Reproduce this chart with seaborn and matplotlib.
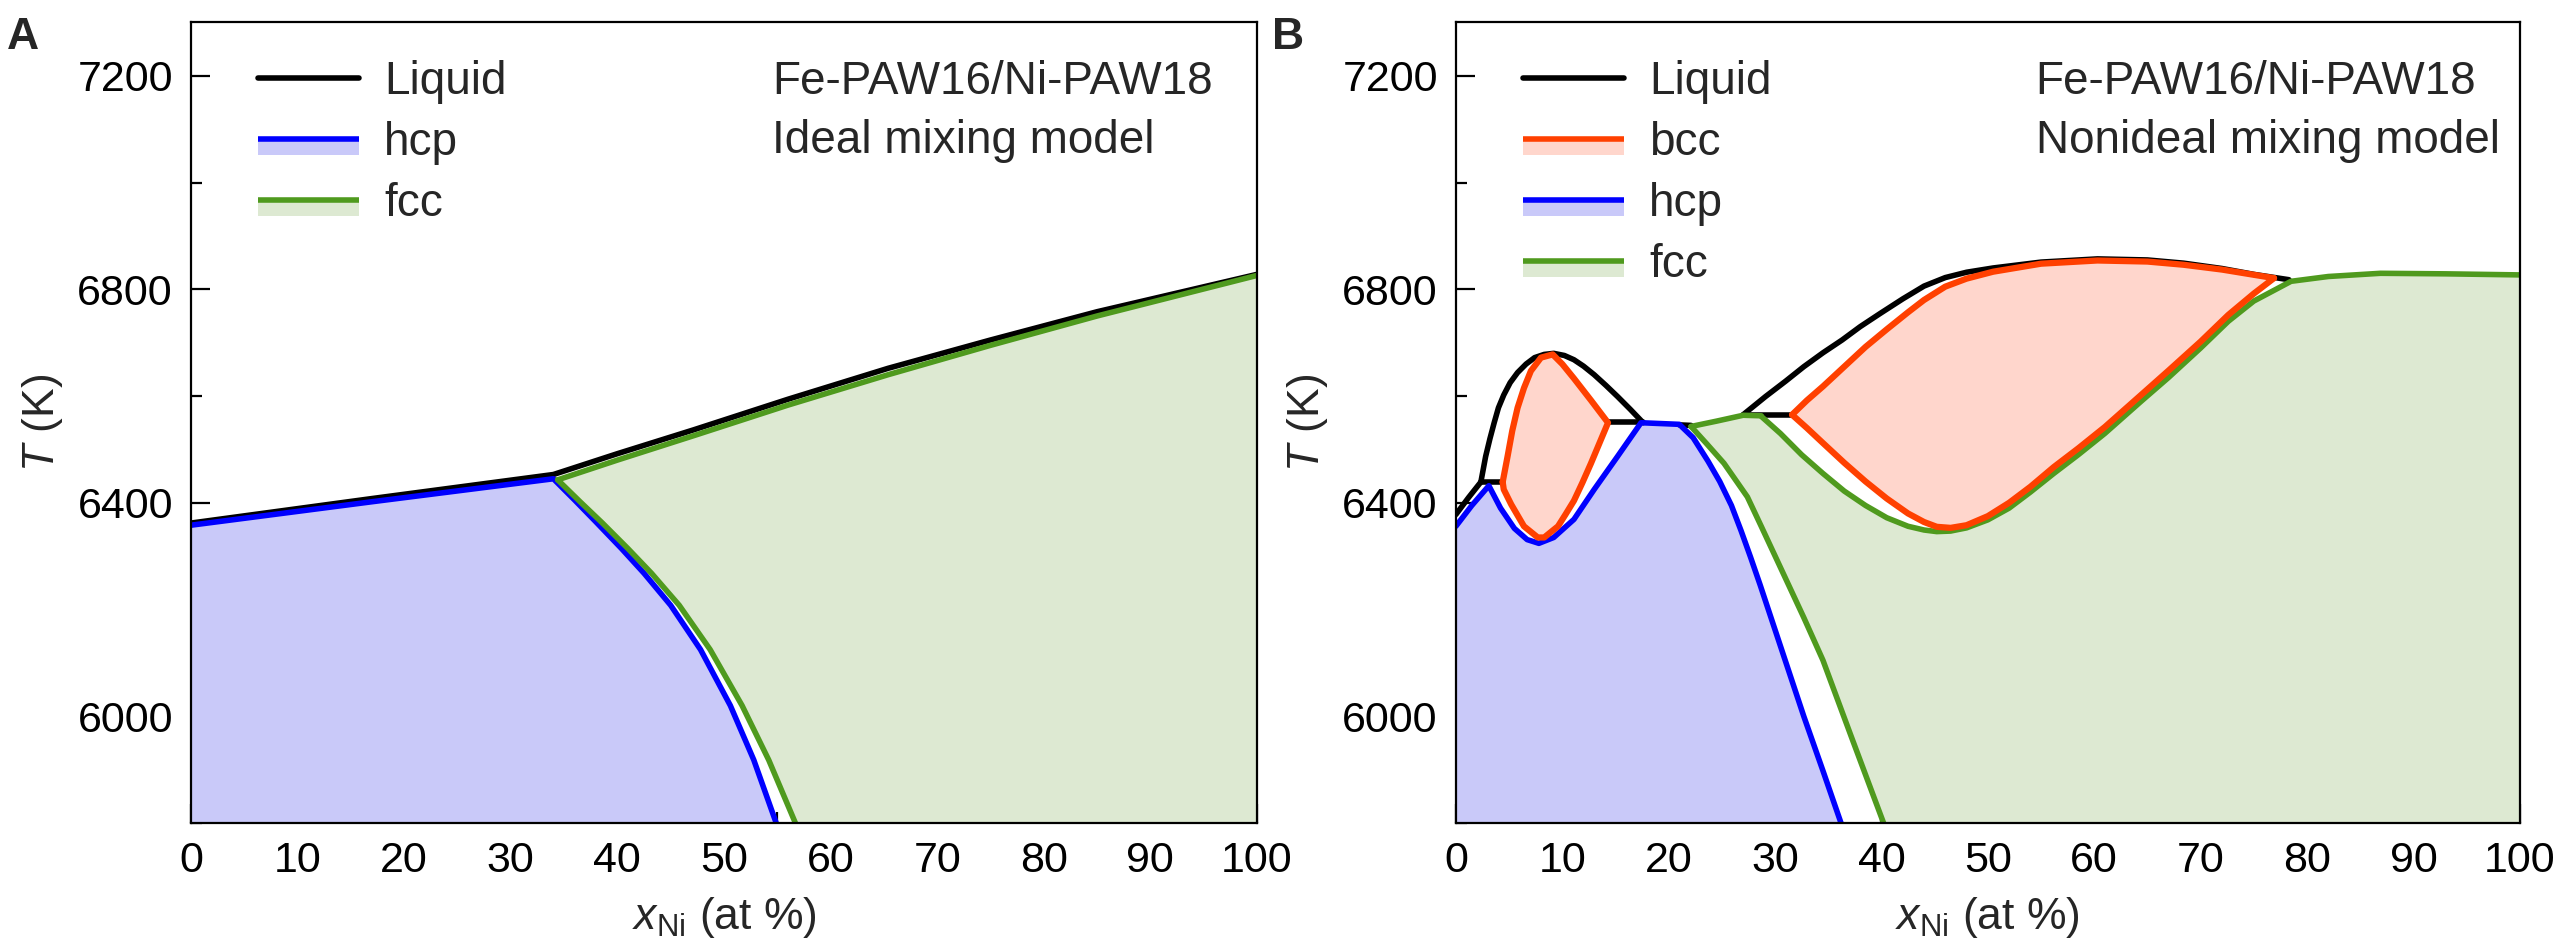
import matplotlib
matplotlib.use('Agg')
import matplotlib.pyplot as plt
import seaborn as sns
from matplotlib.lines import Line2D
from matplotlib.patches import Patch, Rectangle
from matplotlib.legend_handler import HandlerBase
from matplotlib.ticker import MultipleLocator

T_MIN, T_MAX = 5800, 7300

# ---- panel A: ideal mixing model ----
a_liq_x = [0, 17, 34.0, 40.0, 47.2, 56.0, 65.4, 75.0, 85.0, 100]
a_liq_T = [6362, 6408, 6453, 6492, 6537, 6594, 6652, 6705, 6758, 6828]

a_hcp_x = [0, 17, 34.0, 36.0, 38.0, 40.4, 42.5, 45.0, 47.8, 50.6, 52.8, 54.9]
a_hcp_T = [6358, 6402, 6445, 6405, 6364, 6314, 6268, 6208, 6125, 6020, 5918, 5800]

a_fcc_top_x = [34.4, 40.0, 47.2, 56.0, 65.4, 75.0, 85.0, 100]
a_fcc_top_T = [6443, 6480, 6526, 6583, 6640, 6695, 6750, 6826]
a_fcc_low_x = [34.4, 36.5, 38.6, 41.0, 43.2, 45.8, 48.7, 51.7, 54.2, 56.7]
a_fcc_low_T = [6443, 6402, 6362, 6314, 6268, 6208, 6125, 6020, 5918, 5800]

# ---- panel B: nonideal mixing model ----
b_liq_segments = [
    ([0, 1.2, 2.35], [6378, 6410, 6439]),
    ([2.35, 4.4], [6439, 6439]),
    ([2.35, 2.8, 3.2, 3.6, 4.0, 4.5, 5.1, 5.8, 6.6, 7.4, 8.3, 9.2, 10.2, 11.1, 12.0, 13.0, 14.1, 15.2, 16.4, 17.6],
     [6439, 6487, 6520, 6550, 6578, 6602, 6625, 6644, 6660, 6672, 6678, 6680, 6676, 6668, 6656, 6640, 6620, 6599, 6575, 6550]),
    ([14.3, 17.6], [6551, 6551]),
    ([21.0, 22.1], [6546, 6545]),
    ([27.0, 31.6], [6565, 6565]),
    ([27.0, 29.1, 31.0, 32.7, 34.5, 36.3, 38.0, 39.9, 42.0, 44.0, 46.0, 48.0, 50.5, 55.0, 60.3, 65.0, 68.4, 72.0, 75.0, 78.3],
     [6565, 6599, 6628, 6655, 6681, 6705, 6730, 6755, 6782, 6806, 6822, 6832, 6840, 6851, 6857, 6855, 6849, 6839, 6828, 6818]),
]

b_hcp_x = [0, 1.5, 3.1, 4.2, 5.5, 6.7, 7.8, 9.2, 11.1, 13.0, 15.2, 17.4, 21.0, 22.3, 23.7, 24.8, 25.9, 26.8,
           27.7, 28.6, 30.5, 32.7, 34.5, 36.2]
b_hcp_T = [6356, 6395, 6432, 6390, 6352, 6331, 6324, 6335, 6369, 6425, 6487, 6550, 6547, 6522, 6478, 6440, 6395, 6348,
           6298, 6246, 6132, 6000, 5898, 5800]

b_bcc1_x = [4.4, 4.86, 5.3, 5.8, 6.4, 7.05, 8.0, 9.1, 10.0, 11.1, 12.7, 14.3, 13.5, 12.7, 11.9, 11.1, 10.3, 9.6,
            8.3, 7.7, 6.4, 5.2, 4.5, 4.4]
b_bcc1_T = [6439, 6487, 6535, 6578, 6615, 6647, 6672, 6678, 6660, 6633, 6592, 6550, 6512, 6474, 6438, 6404, 6378, 6356,
            6335, 6335, 6356, 6397, 6425, 6439]

b_bcc2_up_x = [31.6, 33.0, 34.5, 36.5, 38.5, 40.5, 42.5, 44.0, 46.0, 48.0, 50.5, 55.0, 60.3, 65.0, 68.4, 72.0, 76.9]
b_bcc2_up_T = [6565, 6592, 6618, 6655, 6692, 6725, 6757, 6780, 6805, 6820, 6833, 6848, 6854, 6852, 6846, 6837, 6821]
b_bcc2_low_x = [31.6, 33.0, 34.5, 36.5, 38.5, 40.5, 42.5, 44.0, 45.2, 46.5, 48.0, 50.0, 52.0, 54.0, 56.2,
                58.5, 61.0, 64.4, 67.0, 70.0, 72.6, 75.0, 76.9]
b_bcc2_low_T = [6565, 6540, 6512, 6475, 6440, 6408, 6380, 6364, 6355, 6353, 6358, 6375, 6400, 6430, 6467,
                6502, 6542, 6602, 6648, 6702, 6752, 6792, 6821]

b_fcc_top_x = [22.1, 24.5, 27.0, 28.7]
b_fcc_top_T = [6543, 6553, 6564, 6563]
b_fcc_liq_x = [28.7, 30.5, 32.5, 34.5, 36.5, 38.5, 40.5, 42.5, 44.0, 45.2, 46.5, 48.0, 50.0, 52.0, 54.0, 56.2,
               58.5, 61.0, 64.4, 67.0, 70.0, 72.6, 75.0, 78.5, 82.0, 86.9, 93.0, 100]
b_fcc_liq_T = [6562, 6530, 6490, 6455, 6422, 6395, 6372, 6356, 6349, 6346, 6347, 6353, 6368, 6390, 6420, 6455,
               6490, 6530, 6590, 6635, 6690, 6740, 6778, 6815, 6824, 6830, 6829, 6827]
b_fcc_sol_x = [22.1, 23.6, 25.2, 27.4, 28.7, 30.9, 32.7, 34.5, 37.2, 40.2]
b_fcc_sol_T = [6543, 6510, 6474, 6411, 6356, 6262, 6185, 6105, 5960, 5800]

C_LIQ = 'black'
C_HCP, F_HCP = '#0000ff', '#c9c9f9'
C_FCC, F_FCC = '#4f9a1e', '#dde9d2'
C_BCC, F_BCC = '#ff4000', '#ffd6cc'
LW = 4.0
LW_BCC = 4.5

sns.set_theme(style='ticks')
plt.rcParams['font.family'] = ['Liberation Sans', 'DejaVu Sans']
plt.rcParams['mathtext.fontset'] = 'custom'
plt.rcParams['mathtext.rm'] = 'Liberation Sans'
plt.rcParams['mathtext.it'] = 'Liberation Sans:italic'
FS_TICK = 31
FS_TEXT = 33
FS_LABEL = 32


class BandHandler(HandlerBase):
    # legend key: a line with the light phase fill underneath
    def create_artists(self, legend, orig_handle, xdescent, ydescent, width, height, fontsize, trans):
        ymid = (height - ydescent) / 2.
        rect = Rectangle((-xdescent, -ydescent), width, ymid + ydescent,
                         facecolor=orig_handle.get_facecolor(), edgecolor='none', transform=trans)
        ln = Line2D([-xdescent, -xdescent + width], [ymid, ymid],
                    color=orig_handle.get_edgecolor(), lw=LW, solid_capstyle='butt', transform=trans)
        return [rect, ln]


def line(ax, x, y, color, lw=LW):
    sns.lineplot(x=x, y=y, sort=False, estimator=None, color=color, lw=lw, ax=ax, legend=False)


def style_axes(ax):
    ax.set_xlim(0, 100)
    ax.set_ylim(T_MIN, T_MAX)
    ax.xaxis.set_major_locator(MultipleLocator(10))
    ax.xaxis.set_minor_locator(MultipleLocator(5))
    ax.yaxis.set_major_locator(MultipleLocator(400))
    ax.yaxis.set_minor_locator(MultipleLocator(200))
    ax.set_yticks([6000, 6400, 6800, 7200])
    ax.tick_params(which='both', direction='in', width=1.6, colors='black', labelsize=FS_TICK, pad=13,
                   top=False, right=False)
    ax.tick_params(which='major', length=14)
    ax.tick_params(which='minor', length=8)
    for s in ax.spines.values():
        s.set_linewidth(1.6)
        s.set_color('black')
    ax.set_xlabel(r'$x_{\mathrm{Ni}}$ (at %)', fontsize=FS_LABEL, labelpad=10)
    ax.set_ylabel(r'$T$ (K)', fontsize=FS_LABEL)
    ax.yaxis.set_label_coords(-0.118, 0.5)


fig = plt.figure(figsize=(25.6, 9.52), dpi=100)
axA = fig.add_axes([0.0746, 0.1355, 0.4164, 0.8409])
axB = fig.add_axes([0.5687, 0.1355, 0.4156, 0.8409])

# panel A
axA.fill(a_hcp_x + [0], a_hcp_T + [T_MIN], color=F_HCP, lw=0)
axA.fill(a_fcc_top_x + [100] + a_fcc_low_x[::-1], a_fcc_top_T + [T_MIN] + a_fcc_low_T[::-1], color=F_FCC, lw=0)
line(axA, a_liq_x, a_liq_T, C_LIQ)
line(axA, a_hcp_x, a_hcp_T, C_HCP)
line(axA, a_fcc_top_x, a_fcc_top_T, C_FCC)
line(axA, a_fcc_low_x, a_fcc_low_T, C_FCC)

# panel B
axB.fill(b_hcp_x + [0], b_hcp_T + [T_MIN], color=F_HCP, lw=0)
axB.fill(b_fcc_top_x + b_fcc_liq_x + [100] + b_fcc_sol_x[::-1],
         b_fcc_top_T + b_fcc_liq_T + [T_MIN] + b_fcc_sol_T[::-1], color=F_FCC, lw=0)
axB.fill(b_bcc1_x, b_bcc1_T, color=F_BCC, lw=0)
axB.fill(b_bcc2_up_x + b_bcc2_low_x[::-1], b_bcc2_up_T + b_bcc2_low_T[::-1], color=F_BCC, lw=0)
for xs, ts in b_liq_segments:
    line(axB, xs, ts, C_LIQ)
line(axB, b_hcp_x, b_hcp_T, C_HCP)
line(axB, b_fcc_top_x, b_fcc_top_T, C_FCC)
line(axB, b_fcc_liq_x, b_fcc_liq_T, C_FCC)
line(axB, b_fcc_sol_x, b_fcc_sol_T, C_FCC)
line(axB, b_bcc1_x, b_bcc1_T, C_BCC, lw=LW_BCC)
line(axB, b_bcc2_up_x, b_bcc2_up_T, C_BCC, lw=LW_BCC)
line(axB, b_bcc2_low_x, b_bcc2_low_T, C_BCC, lw=LW_BCC)

for ax in (axA, axB):
    style_axes(ax)

h_liq = Line2D([], [], color=C_LIQ, lw=LW)
h_hcp = Patch(facecolor=F_HCP, edgecolor=C_HCP)
h_fcc = Patch(facecolor=F_FCC, edgecolor=C_FCC)
h_bcc = Patch(facecolor=F_BCC, edgecolor=C_BCC)
leg_kw = dict(loc='upper left', bbox_to_anchor=(0.063, 0.953), frameon=False, fontsize=FS_TEXT,
              handlelength=2.2, handletextpad=0.55, labelspacing=0.37, borderpad=0, borderaxespad=0,
              handler_map={Patch: BandHandler()})
axA.legend([h_liq, h_hcp, h_fcc], ['Liquid', 'hcp', 'fcc'], **leg_kw)
axB.legend([h_liq, h_bcc, h_hcp, h_fcc], ['Liquid', 'bcc', 'hcp', 'fcc'], **leg_kw)

for ax, model in ((axA, 'Ideal mixing model'), (axB, 'Nonideal mixing model')):
    ax.text(0.545, 0.911, 'Fe-PAW16/Ni-PAW18', transform=ax.transAxes, fontsize=FS_TEXT, va='baseline')
    ax.text(0.545, 0.837, model, transform=ax.transAxes, fontsize=FS_TEXT, va='baseline')

fig.text(7 / 2560, 1 - 49 / 952, 'A', fontsize=32, fontweight='bold', va='baseline')
fig.text(1272 / 2560, 1 - 49 / 952, 'B', fontsize=32, fontweight='bold', va='baseline')

fig.savefig('out.png', dpi=100)
